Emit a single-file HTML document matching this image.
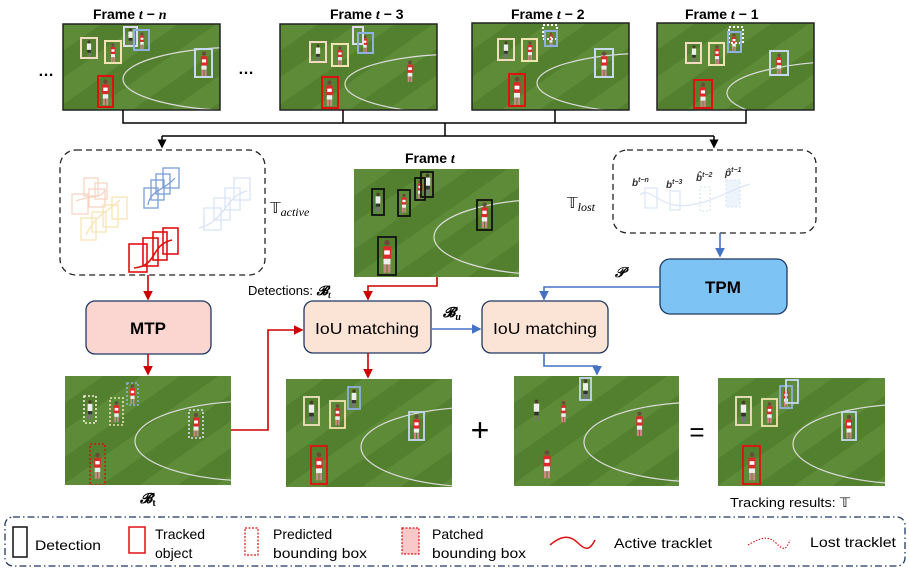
<!DOCTYPE html>
<html><head><meta charset="utf-8"><style>
body{margin:0;background:#fff}
svg text{font-family:"Liberation Sans",sans-serif}
.t{font-weight:bold;font-size:14px}
.m{font-family:"Liberation Serif",serif;font-style:italic}
</style></head><body>
<svg width="909" height="569" viewBox="0 0 909 569" xmlns="http://www.w3.org/2000/svg">
<defs>
<pattern id="st" patternUnits="userSpaceOnUse" width="44" height="44" patternTransform="rotate(55)">
<rect width="44" height="44" fill="#52802e"/><rect width="22" height="44" fill="#5d8b37"/>
</pattern>
<symbol id="pr" viewBox="0 0 10 24"><circle cx="5" cy="2.5" r="2" fill="#6b4a3a"/><rect x="2" y="5" width="6" height="9" fill="#d92b2b"/><rect x="3" y="8" width="4" height="3" fill="#fff"/><rect x="2.5" y="14" width="5" height="4" fill="#eee"/><rect x="2.5" y="18" width="2" height="6" fill="#c88"/><rect x="5.5" y="18" width="2" height="6" fill="#c88"/></symbol>
<symbol id="pw" viewBox="0 0 10 24"><circle cx="5" cy="2.5" r="2" fill="#4a3a2a"/><rect x="2" y="5" width="6" height="9" fill="#eee"/><rect x="2.5" y="14" width="5" height="4" fill="#333"/><rect x="2.5" y="18" width="2" height="6" fill="#777"/><rect x="5.5" y="18" width="2" height="6" fill="#777"/></symbol>
<marker id="ar" markerWidth="6" markerHeight="6" refX="5" refY="3" orient="auto"><path d="M0,0L6,3L0,6z" fill="#c00"/></marker>
<marker id="ab" markerWidth="6" markerHeight="6" refX="5" refY="3" orient="auto"><path d="M0,0L6,3L0,6z" fill="#4472c4"/></marker>
<marker id="ak" markerWidth="6" markerHeight="6" refX="5" refY="3" orient="auto"><path d="M0,0L6,3L0,6z" fill="#000"/></marker>
</defs>

<text class="t" x="93" y="19">Frame <tspan class="m">t</tspan> − <tspan class="m">n</tspan></text>
<text class="t" x="330" y="19">Frame <tspan class="m">t</tspan> − 3</text>
<text class="t" x="511" y="19">Frame <tspan class="m">t</tspan> − 2</text>
<text class="t" x="685" y="19">Frame <tspan class="m">t</tspan> − 1</text>
<text x="38" y="76" font-size="16" font-weight="bold">…</text>
<text x="238" y="74" font-size="16" font-weight="bold">…</text>

<g stroke-width="2" fill="none">
<svg x="63" y="24" width="157" height="86"><rect width="157" height="86" fill="url(#st)"/><ellipse cx="185" cy="55" rx="125" ry="32" stroke="#ddd" stroke-width="1.2"/>
<use href="#pw" x="21" y="16" width="10" height="17"/><use href="#pr" x="45" y="19" width="10" height="19"/><use href="#pw" x="63" y="4" width="9" height="17"/><use href="#pr" x="74" y="8" width="10" height="17"/><use href="#pr" x="135" y="27" width="12" height="25"/><use href="#pr" x="37" y="54" width="11" height="28"/>
<rect x="18" y="14" width="16" height="20" stroke="#f2dcc0"/><rect x="42" y="17" width="16" height="22" stroke="#f0e4b0"/><rect x="61" y="3" width="13" height="19" stroke="#dde"/><rect x="71" y="6" width="15" height="20" stroke="#8fb0e0"/><rect x="132" y="25" width="17" height="28" stroke="#c8d8f0"/><rect x="35" y="52" width="15" height="31" stroke="#e01010"/></svg>
<svg x="280" y="24" width="157" height="86"><rect width="157" height="86" fill="url(#st)"/><ellipse cx="185" cy="60" rx="120" ry="30" stroke="#ddd" stroke-width="1.2"/>
<use href="#pw" x="33" y="20" width="10" height="17"/><use href="#pr" x="55" y="22" width="10" height="19"/><use href="#pr" x="80" y="11" width="10" height="17"/><use href="#pr" x="125" y="36" width="10" height="22"/><use href="#pr" x="44" y="55" width="11" height="28"/>
<rect x="30" y="18" width="16" height="20" stroke="#f2dcc0"/><rect x="52" y="20" width="16" height="22" stroke="#f0e4b0"/><rect x="73" y="3" width="10" height="17" stroke="#dde"/><rect x="78" y="9" width="15" height="20" stroke="#8fb0e0"/><rect x="42" y="53" width="16" height="31" stroke="#e01010"/></svg>
<svg x="472" y="23" width="157" height="87"><rect width="157" height="87" fill="url(#st)"/><ellipse cx="185" cy="60" rx="120" ry="30" stroke="#ddd" stroke-width="1.2"/>
<use href="#pw" x="29" y="18" width="10" height="17"/><use href="#pr" x="53" y="18" width="10" height="19"/><use href="#pr" x="74" y="9" width="10" height="14"/><use href="#pr" x="126" y="28" width="12" height="25"/><use href="#pr" x="39" y="53" width="12" height="29"/>
<rect x="26" y="16" width="16" height="21" stroke="#f2dcc0"/><rect x="50" y="16" width="15" height="22" stroke="#f0e4b0"/><rect x="71" y="2" width="14" height="14" stroke="#fff" stroke-dasharray="2,2"/><rect x="73" y="8" width="12" height="15" stroke="#8fb0e0"/><rect x="123" y="26" width="18" height="28" stroke="#c8d8f0"/><rect x="37" y="51" width="16" height="32" stroke="#e01010"/></svg>
<svg x="657" y="23" width="157" height="87"><rect width="157" height="87" fill="url(#st)"/><ellipse cx="200" cy="70" rx="130" ry="32" stroke="#ddd" stroke-width="1.2"/>
<use href="#pw" x="32" y="22" width="10" height="17"/><use href="#pr" x="55" y="22" width="10" height="19"/><use href="#pr" x="72" y="10" width="10" height="18"/><use href="#pr" x="116" y="30" width="12" height="21"/><use href="#pr" x="40" y="59" width="12" height="25"/>
<rect x="29" y="20" width="15" height="20" stroke="#f2dcc0"/><rect x="52" y="20" width="15" height="22" stroke="#f0e4b0"/><rect x="72" y="4" width="14" height="16" stroke="#fff" stroke-dasharray="2,2"/><rect x="71" y="9" width="13" height="20" stroke="#8fb0e0"/><rect x="113" y="28" width="18" height="24" stroke="#c8d8f0"/><rect x="37" y="57" width="18" height="28" stroke="#e01010"/></svg>
</g>
<g stroke="#222" stroke-width="1.5" fill="none">
<rect x="63" y="24" width="157" height="86"/><rect x="280" y="24" width="157" height="86"/><rect x="472" y="23" width="157" height="87"/><rect x="657" y="23" width="157" height="87"/>
</g>

<g stroke="#000" stroke-width="1.5" fill="none">
<path d="M123,110V123H746V110M343,110V123M555,110V123"/>
<path d="M445,123V136"/>
<path d="M162,136H714"/>
<path d="M162,136V147" marker-end="url(#ak)"/>
<path d="M714,136V147" marker-end="url(#ak)"/>
</g>

<rect x="60" y="150" width="205" height="125" rx="16" fill="none" stroke="#222" stroke-width="1.3" stroke-dasharray="6,4"/>
<g fill="none" stroke-width="1.3">
<g stroke="#f7d5c4"><rect x="72" y="194" width="16" height="20"/><rect x="84" y="178" width="14" height="18"/><rect x="89" y="189" width="16" height="18"/><rect x="95" y="183" width="12" height="16"/><path d="M76,201C90,195 100,200 105,190"/></g>
<g stroke="#f9e4b4"><rect x="81" y="218" width="15" height="22"/><rect x="92" y="212" width="14" height="20"/><rect x="103" y="205" width="15" height="22"/><rect x="112" y="197" width="15" height="22"/><path d="M86,235C95,215 110,210 120,200"/></g>
<g stroke="#7a9ed8"><rect x="144" y="188" width="14" height="20"/><rect x="151" y="180" width="13" height="20"/><rect x="156" y="174" width="14" height="20"/><rect x="163" y="168" width="16" height="20"/><path d="M148,205C150,190 165,190 175,178"/></g>
<g stroke="#d8e4f6"><rect x="204" y="208" width="17" height="22"/><rect x="214" y="198" width="16" height="22"/><rect x="225" y="188" width="15" height="22"/><rect x="234" y="178" width="16" height="22"/><path d="M199,228C225,222 225,196 247,191"/></g>
<g stroke="#e01010" stroke-width="1.6"><rect x="129" y="244" width="18" height="28"/><rect x="143" y="238" width="15" height="28"/><rect x="153" y="232" width="14" height="28"/><rect x="163" y="228" width="15" height="26"/><path d="M134,268C158,266 150,245 172,240"/></g>
</g>
<text x="270" y="213" font-size="15" font-family="Liberation Serif,serif">𝕋<tspan class="m" font-size="12" dy="3">active</tspan></text>

<text class="t" x="405" y="163">Frame <tspan class="m">t</tspan></text>
<svg x="354" y="169" width="165" height="108"><rect width="165" height="108" fill="url(#st)"/><ellipse cx="200" cy="68" rx="120" ry="38" stroke="#ddd" stroke-width="1.2" fill="none"/>
<use href="#pw" x="20" y="22" width="8" height="22"/><use href="#pr" x="46" y="23" width="8" height="22"/><use href="#pr" x="62" y="10" width="8" height="20"/><use href="#pw" x="69" y="4" width="9" height="22"/><use href="#pr" x="125" y="33" width="11" height="26"/><use href="#pr" x="26" y="70" width="14" height="34"/>
<g fill="none" stroke="#111" stroke-width="1.8"><rect x="18" y="20" width="12" height="26"/><rect x="44" y="21" width="12" height="26"/><rect x="61" y="9" width="10" height="22"/><rect x="67" y="3" width="12" height="25"/><rect x="123" y="31" width="15" height="30"/><rect x="24" y="68" width="18" height="38"/></g></svg>

<rect x="613" y="150" width="203" height="83" rx="14" fill="none" stroke="#222" stroke-width="1.3" stroke-dasharray="6,4"/>
<text x="567" y="208" font-size="15" font-family="Liberation Serif,serif">𝕋<tspan class="m" font-size="12" dy="3">lost</tspan></text>
<g fill="none" stroke="#dbe6f5" stroke-width="1.2"><rect x="645" y="188" width="12" height="20"/><rect x="670" y="191" width="10" height="19"/><rect x="700" y="187" width="10" height="24" stroke-dasharray="2,2"/><rect x="726" y="180" width="14" height="27" stroke-dasharray="2,2" fill="#eef4fb"/><path d="M640,195C650,185 660,210 690,205C710,203 730,190 750,184"/></g>
<g font-family="Liberation Serif,serif" font-weight="bold" font-style="italic" font-size="10" fill="#333"><text x="632" y="186">b<tspan font-size="7" dy="-4">t−n</tspan></text><text x="666" y="188">b<tspan font-size="7" dy="-4">t−3</tspan></text><text x="696" y="181">b̂<tspan font-size="7" dy="-4">t−2</tspan></text><text x="725" y="176">p̂<tspan font-size="7" dy="-4">t−1</tspan></text></g>

<path d="M720,233V256" stroke="#4472c4" stroke-width="1.6" marker-end="url(#ab)" fill="none"/>
<rect x="660" y="259" width="127" height="55" rx="10" fill="#7dc3f3" stroke="#1f3864" stroke-width="1.3"/>
<text x="723" y="293" text-anchor="middle" font-weight="bold" font-size="17">TPM</text>
<text x="615" y="277" class="m" font-weight="bold" font-size="14" font-family="Liberation Serif,serif">𝒫</text>

<rect x="86" y="301" width="125" height="53" rx="9" fill="#fbd5cf" stroke="#1f3864" stroke-width="1.3"/>
<text x="148" y="334" text-anchor="middle" font-weight="bold" font-size="17">MTP</text>
<rect x="304" y="301" width="127" height="52" rx="9" fill="#fbe4d5" stroke="#1f3864" stroke-width="1.3"/>
<text x="367" y="334" text-anchor="middle" font-size="16" textLength="104" lengthAdjust="spacingAndGlyphs">IoU matching</text>
<rect x="482" y="301" width="126" height="52" rx="9" fill="#fbe4d5" stroke="#1f3864" stroke-width="1.3"/>
<text x="545" y="334" text-anchor="middle" font-size="16" textLength="104" lengthAdjust="spacingAndGlyphs">IoU matching</text>
<text x="248" y="295" font-size="13">Detections: <tspan class="m" font-weight="bold" font-family="Liberation Serif,serif">𝓑<tspan font-size="9" dy="3">t</tspan></tspan></text>
<text x="443" y="317" class="m" font-weight="bold" font-size="14" font-family="Liberation Serif,serif">𝓑<tspan font-size="10" dy="3">u</tspan></text>

<g fill="none" stroke-width="1.6">
<path d="M148,275V299" stroke="#c00" marker-end="url(#ar)"/>
<path d="M148,354V374" stroke="#c00" marker-end="url(#ar)"/>
<path d="M230,430H268V330H302" stroke="#c00" marker-end="url(#ar)"/>
<path d="M437,277V286H368V299" stroke="#c00" marker-end="url(#ar)"/>
<path d="M368,353V377" stroke="#c00" marker-end="url(#ar)"/>
<path d="M432,329H480" stroke="#4472c4" marker-end="url(#ab)"/>
<path d="M660,287H544V299" stroke="#4472c4" marker-end="url(#ab)"/>
<path d="M544,353V366H597V374" stroke="#4472c4" marker-end="url(#ab)"/>
</g>

<svg x="65" y="376" width="166" height="109"><rect width="166" height="109" fill="url(#st)"/><ellipse cx="190" cy="65" rx="120" ry="40" stroke="#ddd" stroke-width="1.2" fill="none"/>
<use href="#pw" x="21" y="22" width="8" height="23"/><use href="#pr" x="47" y="24" width="9" height="23"/><use href="#pr" x="63" y="8" width="9" height="20"/><use href="#pr" x="126" y="36" width="10" height="25"/><use href="#pr" x="27" y="72" width="11" height="35"/>
<g fill="none" stroke-width="1.6" stroke-dasharray="2,2"><rect x="19" y="20" width="12" height="27" stroke="#f6eedc"/><rect x="45" y="22" width="13" height="27" stroke="#f0e4b0"/><rect x="62" y="7" width="11" height="22" stroke="#8fb0e0"/><rect x="124" y="34" width="14" height="28" stroke="#dde"/><rect x="25" y="68" width="15" height="41" stroke="#e01010"/></g></svg>
<svg x="286" y="379" width="166" height="108"><rect width="166" height="108" fill="url(#st)"/><ellipse cx="195" cy="68" rx="120" ry="40" stroke="#ddd" stroke-width="1.2" fill="none"/>
<use href="#pw" x="21" y="20" width="9" height="24"/><use href="#pr" x="47" y="24" width="9" height="23"/><use href="#pw" x="64" y="10" width="8" height="19"/><use href="#pr" x="125" y="35" width="11" height="25"/><use href="#pr" x="27" y="70" width="12" height="34"/>
<g fill="none" stroke-width="1.8"><rect x="18" y="18" width="15" height="28" stroke="#f2e2c0"/><rect x="44" y="22" width="15" height="27" stroke="#f0e4b0"/><rect x="62" y="8" width="12" height="22" stroke="#8fb0e0"/><rect x="123" y="33" width="15" height="28" stroke="#c8d8f0"/><rect x="25" y="67" width="16" height="38" stroke="#e01010"/></g></svg>
<svg x="514" y="376" width="165" height="110"><rect width="165" height="110" fill="url(#st)"/><ellipse cx="190" cy="66" rx="120" ry="40" stroke="#ddd" stroke-width="1.2" fill="none"/>
<use href="#pw" x="18" y="22" width="9" height="24"/><use href="#pr" x="45" y="24" width="9" height="23"/><use href="#pw" x="67" y="3" width="9" height="20"/><use href="#pr" x="120" y="35" width="11" height="25"/><use href="#pr" x="27" y="70" width="12" height="36"/>
<g fill="none" stroke-width="1.8"><rect x="66" y="2" width="11" height="22" stroke="#c8d8f0"/></g></svg>
<svg x="718" y="378" width="167" height="108"><rect width="167" height="108" fill="url(#st)"/><ellipse cx="195" cy="66" rx="120" ry="40" stroke="#ddd" stroke-width="1.2" fill="none"/>
<use href="#pw" x="21" y="21" width="9" height="24"/><use href="#pr" x="47" y="23" width="9" height="23"/><use href="#pr" x="64" y="9" width="8" height="20"/><use href="#pr" x="126" y="36" width="10" height="25"/><use href="#pr" x="28" y="71" width="12" height="34"/>
<g fill="none" stroke-width="1.8"><rect x="18" y="19" width="15" height="28" stroke="#f2e2c0"/><rect x="44" y="21" width="15" height="27" stroke="#f0e4b0"/><rect x="62" y="8" width="12" height="22" stroke="#8fb0e0"/><rect x="68" y="2" width="12" height="23" stroke="#c8d8f0"/><rect x="124" y="34" width="14" height="28" stroke="#c8d8f0"/><rect x="25" y="68" width="17" height="38" stroke="#e01010"/></g></svg>

<text x="480" y="441" text-anchor="middle" font-size="32">+</text>
<text x="697" y="441" text-anchor="middle" font-size="26">=</text>
<text x="140" y="503" class="m" font-weight="bold" font-size="14" font-family="Liberation Serif,serif">𝓑̂<tspan font-size="10" dy="3" font-style="normal">t</tspan></text>
<text x="730" y="507" font-size="13" textLength="120" lengthAdjust="spacingAndGlyphs">Tracking results: 𝕋</text>

<rect x="5" y="517" width="900" height="49" rx="8" fill="none" stroke="#1f3864" stroke-width="1.3" stroke-dasharray="7,3,1.5,3"/>
<g fill="none" stroke-width="1.5">
<rect x="13" y="527" width="14" height="30" stroke="#111"/>
<rect x="129" y="527" width="16" height="26" stroke="#e01010"/>
<rect x="245" y="528" width="13" height="27" stroke="#e01010" stroke-dasharray="2,1.5" stroke-width="1.2"/>
<rect x="402" y="528" width="17" height="26" stroke="#e01010" stroke-dasharray="2,1.5" fill="#f9c8c8" stroke-width="1.2"/>
<path d="M550,545C562,535 570,535 578,543S590,550 595,540" stroke="#e01010"/>
<path d="M748,545C760,538 768,535 776,543S786,550 790,540" stroke="#e01010" stroke-dasharray="1.5,1.5" stroke-width="1.1"/>
</g>
<g font-size="14">
<text x="35" y="550" textLength="66" lengthAdjust="spacingAndGlyphs">Detection</text>
<text x="155" y="539">Tracked</text><text x="155" y="558">object</text>
<text x="273" y="539">Predicted</text><text x="273" y="558" textLength="94" lengthAdjust="spacingAndGlyphs">bounding box</text>
<text x="432" y="539">Patched</text><text x="432" y="558" textLength="94" lengthAdjust="spacingAndGlyphs">bounding box</text>
<text x="614" y="548" textLength="98" lengthAdjust="spacingAndGlyphs">Active tracklet</text>
<text x="810" y="547" textLength="86" lengthAdjust="spacingAndGlyphs">Lost tracklet</text>
</g>
</svg>
</body></html>
